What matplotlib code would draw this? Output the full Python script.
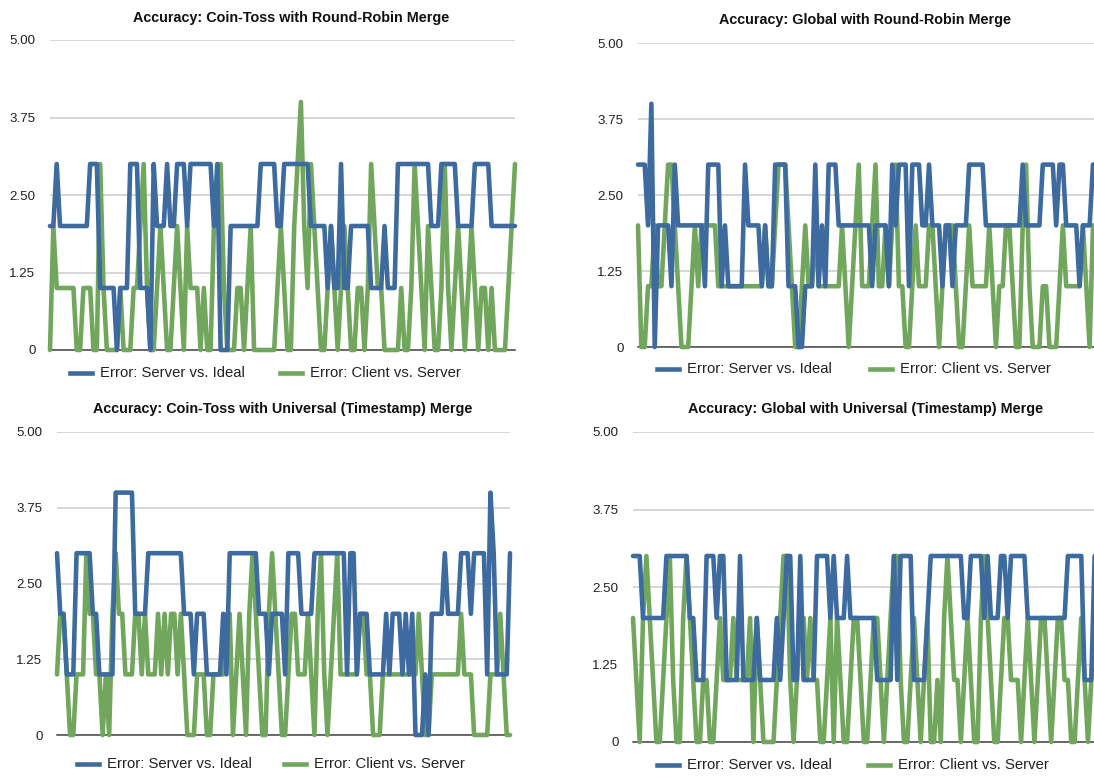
import matplotlib
matplotlib.use("Agg")
import matplotlib.pyplot as plt
import numpy as np
from matplotlib.lines import Line2D

plt.rcParams['font.family'] = ['Liberation Sans', 'DejaVu Sans']

BLUE = '#3d6b9f'
GREEN = '#71a75c'

# error per sample, four runs (server vs. ideal / client vs. server)
rr_coin_server = [
    2, 2, 3, 2, 2, 2, 2, 2, 2, 2,  2, 2, 3, 3, 3, 1, 1, 1, 1, 1,
    0, 1, 1, 1, 3, 3, 3, 1, 1, 1,  0, 3, 2, 2, 2, 3, 2, 2, 3, 3,
    3, 2, 3, 3, 3, 3, 3, 3, 3, 2,  3, 0, 0, 0, 2, 2, 2, 2, 2, 2,
    2, 2, 2, 3, 3, 3, 3, 3, 2, 2,  3, 3, 3, 3, 3, 3, 3, 3, 2, 2,
    2, 2, 2, 1, 2, 1, 1, 3, 1, 1,  2, 2, 2, 2, 2, 2, 1, 1, 1, 1,
    2, 1, 1, 1, 3, 3, 3, 3, 3, 3,  3, 3, 3, 3, 2, 2, 2, 3, 3, 3,
    3, 3, 2, 2, 2, 2, 2, 3, 3, 3,  3, 3, 2, 2, 2, 2, 2, 2, 2, 2]
rr_coin_client = [
    0, 2, 1, 1, 1, 1, 1, 1, 0, 0,  1, 1, 1, 0, 0, 3, 1, 0, 0, 0,
    0, 1, 0, 0, 0, 1, 1, 2, 3, 1,  0, 0, 1, 2, 1, 0, 0, 1, 2, 1,
    0, 2, 1, 1, 1, 0, 1, 0, 0, 2,  2, 3, 1, 0, 0, 0, 1, 1, 0, 1,
    2, 0, 0, 0, 0, 0, 0, 0, 1, 2,  1, 0, 0, 2, 3, 4, 2, 1, 3, 2,
    1, 0, 0, 1, 2, 1, 0, 1, 2, 1,  0, 0, 1, 1, 0, 1, 3, 2, 1, 1,
    0, 0, 0, 0, 0, 1, 0, 0, 1, 3,  2, 1, 0, 2, 1, 0, 0, 1, 3, 1,
    0, 1, 2, 1, 0, 1, 2, 1, 0, 1,  1, 0, 1, 0, 0, 0, 0, 1, 2, 3]

rr_global_server = [
    3, 3, 3, 2, 4, 0, 2, 2, 2, 2,  1, 3, 2, 2, 2, 2, 2, 2, 2, 2,
    1, 3, 3, 3, 3, 1, 2, 1, 1, 1,  1, 1, 3, 2, 2, 2, 2, 1, 2, 1,
    1, 3, 3, 3, 3, 1, 1, 1, 0, 0,  1, 1, 1, 3, 1, 2, 1, 3, 3, 3,
    2, 2, 2, 2, 2, 2, 2, 2, 2, 2,  1, 2, 2, 2, 2, 1, 3, 2, 3, 3,
    3, 1, 3, 3, 3, 2, 2, 3, 2, 2,  2, 1, 2, 2, 1, 2, 2, 2, 2, 3,
    3, 3, 3, 3, 2, 2, 2, 2, 2, 2,  2, 2, 2, 2, 2, 3, 2, 2, 2, 2,
    2, 3, 3, 3, 3, 2, 3, 3, 2, 2,  2, 2, 1, 2, 2, 2, 3, 3, 3, 3]
rr_global_client = [
    2, 0, 0, 1, 1, 2, 1, 1, 2, 3,  3, 2, 1, 0, 0, 0, 1, 2, 1, 2,
    2, 2, 2, 2, 1, 1, 1, 1, 1, 1,  1, 1, 1, 1, 1, 1, 1, 1, 2, 1,
    1, 2, 3, 3, 3, 2, 1, 0, 0, 1,  2, 1, 1, 2, 1, 1, 1, 1, 1, 1,
    1, 2, 1, 0, 1, 2, 3, 1, 1, 1,  2, 3, 1, 1, 2, 1, 2, 3, 1, 1,
    0, 0, 1, 2, 1, 1, 1, 2, 2, 1,  0, 1, 2, 2, 2, 1, 0, 0, 1, 2,
    1, 1, 1, 1, 1, 2, 1, 0, 1, 1,  2, 2, 1, 0, 0, 2, 3, 1, 0, 0,
    0, 1, 1, 0, 0, 0, 1, 2, 1, 1,  1, 1, 1, 2, 1, 0, 2, 2, 2, 2]

ts_coin_server = [
    3, 2, 2, 1, 1, 1, 3, 3, 3, 3,  3, 2, 2, 1, 1, 1, 1, 1, 4, 4,
    4, 4, 4, 4, 2, 2, 2, 2, 3, 3,  3, 3, 3, 3, 3, 3, 3, 3, 3, 2,
    2, 2, 1, 2, 2, 2, 1, 1, 1, 1,  1, 2, 1, 3, 3, 3, 3, 3, 3, 3,
    3, 3, 2, 2, 2, 1, 2, 2, 2, 2,  1, 3, 3, 3, 3, 2, 2, 2, 2, 3,
    3, 3, 3, 3, 3, 3, 3, 3, 3, 1,  3, 3, 1, 2, 2, 2, 1, 1, 1, 1,
    1, 2, 1, 2, 2, 2, 1, 2, 1, 2,  0, 0, 0, 1, 0, 2, 2, 2, 2, 3,
    2, 2, 2, 2, 3, 3, 3, 2, 3, 3,  3, 3, 1, 4, 3, 1, 1, 1, 1, 3]
ts_coin_client = [
    1, 2, 2, 1, 0, 0, 1, 1, 1, 3,  2, 2, 1, 1, 0, 1, 0, 2, 3, 2,
    2, 1, 1, 1, 2, 2, 1, 2, 1, 1,  1, 2, 1, 2, 1, 2, 2, 1, 2, 1,
    0, 0, 0, 1, 1, 1, 0, 0, 1, 1,  1, 1, 2, 2, 0, 1, 2, 1, 0, 2,
    3, 2, 1, 0, 0, 2, 3, 2, 1, 0,  0, 1, 2, 2, 1, 1, 1, 2, 1, 0,
    2, 3, 1, 0, 1, 2, 3, 1, 1, 1,  1, 1, 1, 2, 2, 1, 1, 0, 0, 0,
    1, 1, 1, 1, 1, 1, 1, 1, 1, 1,  1, 2, 1, 0, 0, 1, 1, 1, 1, 1,
    1, 1, 1, 1, 2, 1, 1, 1, 0, 0,  0, 0, 0, 1, 1, 1, 2, 1, 0, 0]

ts_global_server = [
    3, 3, 3, 2, 2, 2, 2, 2, 2, 2,  3, 3, 3, 3, 3, 3, 3, 2, 2, 1,
    1, 1, 3, 3, 3, 2, 3, 3, 1, 1,  1, 1, 3, 1, 1, 1, 1, 2, 1, 1,
    1, 1, 1, 2, 1, 2, 3, 3, 1, 1,  3, 1, 1, 1, 1, 3, 3, 3, 3, 2,
    3, 2, 2, 2, 3, 2, 2, 2, 2, 2,  2, 2, 2, 1, 1, 1, 1, 1, 3, 1,
    3, 3, 3, 3, 1, 1, 1, 1, 2, 3,  3, 3, 3, 3, 3, 3, 3, 3, 3, 2,
    2, 3, 3, 3, 3, 2, 3, 2, 2, 2,  3, 3, 2, 3, 3, 3, 3, 3, 2, 2,
    2, 2, 2, 2, 2, 2, 2, 2, 2, 2,  3, 3, 3, 3, 3, 1, 1, 1, 3, 3]
ts_global_client = [
    2, 1, 0, 2, 3, 2, 1, 0, 0, 1,  2, 3, 1, 0, 0, 2, 3, 2, 1, 0,
    0, 1, 1, 0, 0, 1, 2, 1, 1, 1,  2, 1, 1, 1, 1, 2, 0, 2, 1, 0,
    0, 0, 0, 1, 2, 3, 3, 1, 0, 1,  2, 2, 1, 2, 1, 1, 0, 0, 1, 2,
    0, 2, 1, 0, 0, 1, 2, 2, 1, 0,  0, 1, 2, 2, 1, 0, 1, 2, 3, 3,
    1, 0, 0, 1, 2, 1, 0, 1, 2, 0,  0, 1, 0, 2, 3, 2, 1, 1, 0, 1,
    2, 1, 0, 0, 2, 3, 2, 1, 0, 0,  1, 2, 2, 1, 1, 1, 0, 1, 2, 1,
    0, 1, 2, 2, 1, 0, 1, 2, 2, 1,  1, 0, 0, 1, 2, 1, 0, 1, 2, 2]

titles = ["Accuracy: Coin-Toss with Round-Robin Merge",
          "Accuracy: Global with Round-Robin Merge",
          "Accuracy: Coin-Toss with Universal (Timestamp) Merge",
          "Accuracy: Global with Universal (Timestamp) Merge"]
label_server = "Error: Server vs. Ideal"
label_client = "Error: Client vs. Server"
yticks = [0, 1.25, 2.5, 3.75, 5]
yticklabels = ["0", "1.25", "2.50", "3.75", "5.00"]

W, H = 1094, 778
fig = plt.figure(figsize=(W / 100, H / 100), dpi=100)


def fx(px):
    return px / W


def fy(py):
    return 1 - py / H


def panel(box, title, title_xy, server, client, legend_xy):
    left, right, top, bottom = box
    ax = fig.add_axes([fx(left), fy(bottom), (right - left) / W, (bottom - top) / H])
    x = np.arange(len(server))
    ax.plot(x, client, color=GREEN, lw=3.3, solid_joinstyle='round',
            solid_capstyle='round', clip_on=False, zorder=3)
    ax.plot(x, server, color=BLUE, lw=3.3, solid_joinstyle='round',
            solid_capstyle='round', clip_on=False, zorder=4)
    ax.set_xlim(0, len(server) - 1)
    ax.set_ylim(0, 5)
    ax.set_yticks(yticks)
    ax.set_yticklabels(yticklabels)
    ax.set_xticks([])
    ax.tick_params(axis='y', length=0, pad=10.5, labelsize=9.6, colors='#222222')
    ax.grid(axis='y', color='#cccccc', lw=1.1)
    ax.set_axisbelow(True)
    for s in ['top', 'right', 'left']:
        ax.spines[s].set_visible(False)
    ax.spines['bottom'].set_color('#444444')
    ax.spines['bottom'].set_linewidth(1.1)
    ax.spines['bottom'].set_zorder(2)

    fig.text(fx(title_xy[0]), fy(title_xy[1]), title, ha='center', va='center',
             fontsize=10.4, fontweight='bold', color='#111111')

    # legend drawn by hand: short line then label, two entries side by side
    lx, ly, gap = legend_xy
    for i, (col, lab) in enumerate([(BLUE, label_server), (GREEN, label_client)]):
        x0 = lx + i * gap
        fig.add_artist(Line2D([fx(x0), fx(x0 + 22)], [fy(ly), fy(ly)],
                              color=col, lw=3.3, transform=fig.transFigure))
        fig.text(fx(x0 + 30), fy(ly), lab, ha='left', va='center',
                 fontsize=10.7, color='#222222')
    return ax


panel((50, 515, 40, 350), titles[0], (291, 18), rr_coin_server, rr_coin_client, (70, 373, 210))
panel((638, 1103, 43, 347), titles[1], (865, 20), rr_global_server, rr_global_client, (657, 369, 213))
panel((57, 510, 432, 735), titles[2], (283, 409), ts_coin_server, ts_coin_client, (77, 764, 207))
panel((633, 1098, 432, 742), titles[3], (866, 409), ts_global_server, ts_global_client, (657, 765, 211))

fig.savefig("out.png", dpi=100, facecolor='white')
